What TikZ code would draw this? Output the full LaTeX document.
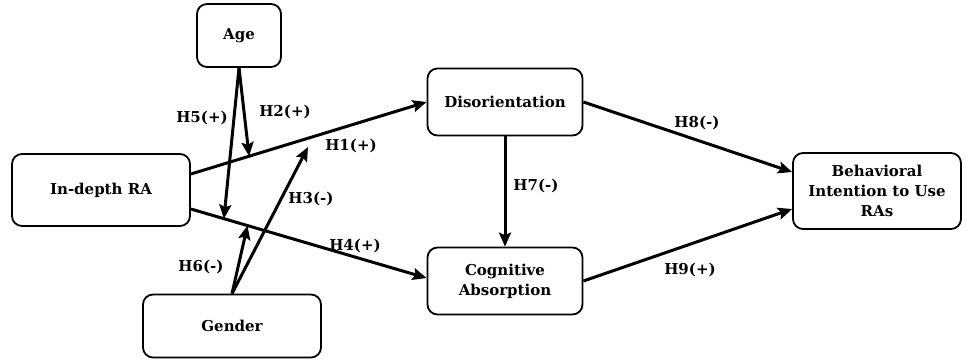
\documentclass[tikz,border=0pt]{standalone}
\usepackage{fontspec}
\setmainfont{DejaVu Serif}
\usetikzlibrary{arrows.meta}

\tikzset{
  box/.style={draw, rounded corners=10pt, line width=1.8pt, align=center,
    inner sep=0pt, font=\bfseries\fontsize{15}{20}\selectfont},
  hyp/.style={line width=3pt, -{Stealth[length=14pt,width=12pt,inset=2.5pt]}},
  lbl/.style={font=\bfseries\fontsize{15}{18}\selectfont}
}

\begin{document}
\begin{tikzpicture}[x=1pt,y=-1pt]
    \useasboundingbox (0,0) rectangle (966,360);
    % constructs
    \node[box, minimum width=84pt, minimum height=63pt] (age) at (239,35.5) {Age};
    \node[box, minimum width=178pt, minimum height=72pt] (ra) at (101,190) {In-depth RA};
    \node[box, minimum width=178pt, minimum height=63pt] (gender) at (232,326) {Gender};
    \node[box, minimum width=155pt, minimum height=67pt] (dis) at (505,102) {Disorientation};
    \node[box, minimum width=155pt, minimum height=67pt] (cog) at (505,281) {Cognitive\\Absorption};
    \node[box, minimum width=168pt, minimum height=76pt] (bi) at (877,191) {Behavioral\\Intention to Use\\RAs};
    % main paths
    \draw[hyp] ([yshift=16pt]ra.east) -- coordinate[pos=0.247] (onh1) (dis.west);
    \draw[hyp] ([yshift=-19pt]ra.east) -- coordinate[pos=0.14] (onh4a) coordinate[pos=0.24] (onh4b) ([yshift=3pt]cog.west);
    \draw[hyp] (dis.south) -- (cog.north);
    \draw[hyp] (dis.east) -- ([yshift=19pt]bi.west);
    \draw[hyp] (cog.east) -- ([yshift=-18pt]bi.west);
    % moderators
    \coordinate (h3end) at (308,147);
    \draw[hyp] (age.south) -- (onh1);
    \draw[hyp] (age.south) -- (onh4a);
    \draw[hyp] (gender.north) -- (onh4b);
    \draw[hyp] (gender.north) -- (h3end);
    % hypotheses
    \node[lbl] (l1) at (351,146) {H1(+)};
    \node[lbl] (l2) at (285,112) {H2(+)};
    \node[lbl] (l3) at (311,199) {H3(-)};
    \node[lbl] (l4) at (355,246) {H4(+)};
    \node[lbl] (l5) at (202,118) {H5(+)};
    \node[lbl] (l6) at (201,267) {H6(-)};
    \node[lbl] (l7) at (536,186) {H7(-)};
    \node[lbl] (l8) at (697,123) {H8(-)};
    \node[lbl] (l9) at (690,270) {H9(+)};
\end{tikzpicture}
\end{document}
